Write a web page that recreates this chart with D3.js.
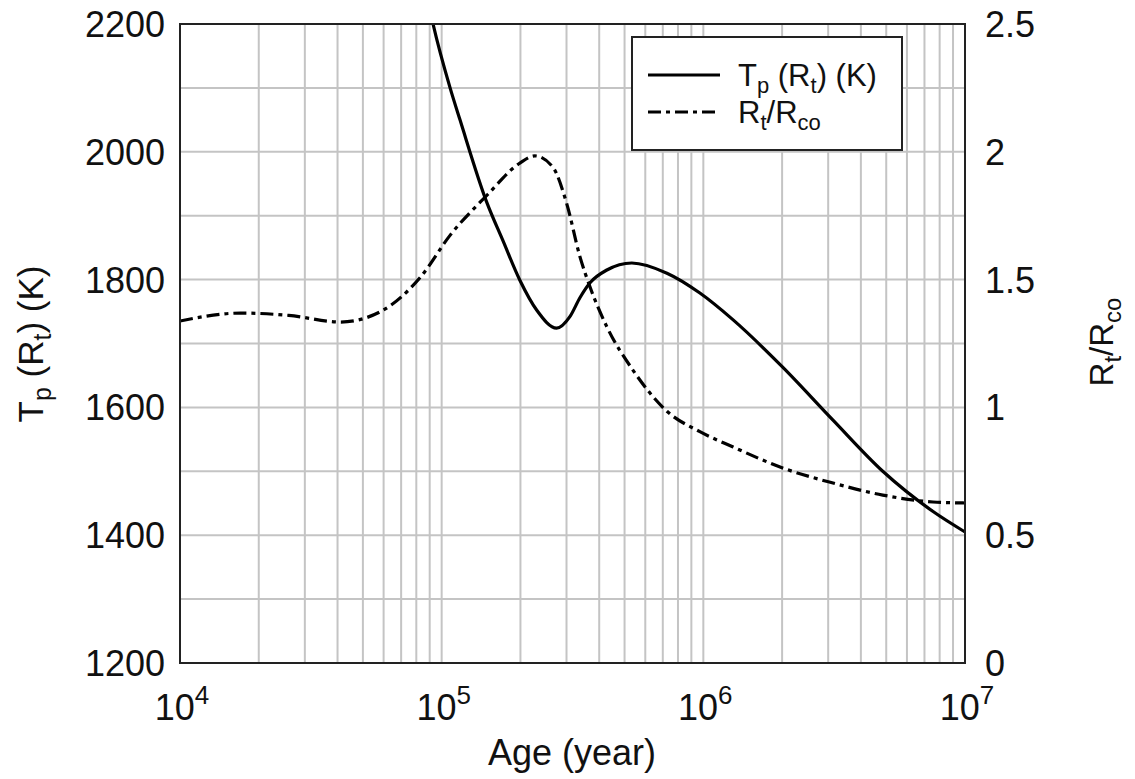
<!DOCTYPE html>
<html>
<head>
<meta charset="utf-8">
<script src="https://cdn.jsdelivr.net/npm/d3@7"></script>
<style>
  body { margin: 0; background: #fff; }
  text { font-family: "Liberation Sans", Arial, sans-serif; fill: #111; }
</style>
</head>
<body>
<svg id="chart" width="1135" height="779"></svg>
<script>
// Tp(Rt) in K
const tAge = [8.0e4, 9.27e4, 1.077e5, 1.175e5, 1.49e5, 1.71e5, 1.99e5, 2.31e5, 2.75e5, 3.09e5, 3.38e5, 3.69e5, 4.28e5, 5.33e5, 7.26e5, 9.7e5, 1.3e6, 2.01e6, 3.13e6, 4.85e6, 7.55e6, 1.0e7];
const tVal = [2330, 2200, 2100, 2050, 1920, 1862, 1799, 1752, 1724, 1742, 1772, 1795, 1815, 1826, 1810, 1779, 1737, 1663, 1580, 1500, 1437, 1405];

// Rt/Rco
const rAge = [1.0e4, 1.7e4, 2.6e4, 4.1e4, 5.8e4, 8.3e4, 1.08e5, 1.49e5, 1.99e5, 2.27e5, 2.66e5, 3.0e5, 3.38e5, 3.69e5, 4.28e5, 5.38e5, 7.26e5, 9.7e5, 1.3e6, 2.01e6, 3.13e6, 4.85e6, 7.55e6, 1.0e7];
const rVal = [1.338, 1.369, 1.36, 1.334, 1.373, 1.51, 1.675, 1.83, 1.956, 1.984, 1.94, 1.80, 1.588, 1.471, 1.315, 1.146, 0.985, 0.905, 0.845, 0.763, 0.704, 0.657, 0.63, 0.626];

const leftTicks = [1200, 1400, 1600, 1800, 2000, 2200];
const rightTicks = [0, 0.5, 1, 1.5, 2, 2.5];
const rightTickLabels = ["0", "0.5", "1", "1.5", "2", "2.5"];
const decades = [4, 5, 6, 7];

const margin = { top: 24, right: 170, bottom: 116, left: 180 };
const width = 1135 - margin.left - margin.right;
const height = 779 - margin.top - margin.bottom;

const svg = d3.select("#chart");
const g = svg.append("g").attr("transform", `translate(${margin.left},${margin.top})`);

const x = d3.scaleLog().domain([1e4, 1e7]).range([0, width]);
const yL = d3.scaleLinear().domain([1200, 2200]).range([height, 0]);
const yR = d3.scaleLinear().domain([0, 2.5]).range([height, 0]);

// grid
const xGrid = [];
for (let e = 4; e < 7; e++) for (let m = 1; m < 10; m++) xGrid.push(m * Math.pow(10, e));
g.selectAll(".vgrid").data(xGrid).join("line")
  .attr("class", "vgrid")
  .attr("x1", d => x(d)).attr("x2", d => x(d))
  .attr("y1", 0).attr("y2", height)
  .attr("stroke", "#c4c4c4").attr("stroke-width", 2);

g.selectAll(".hgrid").data(d3.range(1300, 2200, 100)).join("line")
  .attr("class", "hgrid")
  .attr("x1", 0).attr("x2", width)
  .attr("y1", d => yL(d)).attr("y2", d => yL(d))
  .attr("stroke", "#c4c4c4").attr("stroke-width", 2);

g.append("clipPath").attr("id", "clip")
  .append("rect").attr("width", width).attr("height", height);

// curves
const tData = tAge.map((a, i) => ({ a, v: tVal[i] }));
const rData = rAge.map((a, i) => ({ a, v: rVal[i] }));

g.append("path").datum(tData)
  .attr("clip-path", "url(#clip)")
  .attr("fill", "none").attr("stroke", "#000").attr("stroke-width", 3.2)
  .attr("d", d3.line().x(d => x(d.a)).y(d => yL(d.v)).curve(d3.curveMonotoneX));

g.append("path").datum(rData)
  .attr("clip-path", "url(#clip)")
  .attr("fill", "none").attr("stroke", "#000").attr("stroke-width", 3.2)
  .attr("stroke-dasharray", "13,5,4,5")
  .attr("d", d3.line().x(d => x(d.a)).y(d => yR(d.v)).curve(d3.curveMonotoneX));

// frame
g.append("rect").attr("width", width).attr("height", height)
  .attr("fill", "none").attr("stroke", "#222").attr("stroke-width", 2);

// left ticks
g.selectAll(".ltick").data(leftTicks).join("text")
  .attr("class", "ltick")
  .attr("x", -15).attr("y", d => yL(d)).attr("dy", "0.36em")
  .attr("text-anchor", "end").attr("font-size", 36)
  .text(d => d);

// right ticks
g.selectAll(".rtick").data(rightTicks).join("text")
  .attr("class", "rtick")
  .attr("x", width + 20).attr("y", d => yR(d)).attr("dy", "0.36em")
  .attr("text-anchor", "start").attr("font-size", 36)
  .text((d, i) => rightTickLabels[i]);

// x ticks 10^n
const xt = g.selectAll(".xtick").data(decades).join("text")
  .attr("class", "xtick")
  .attr("x", d => x(Math.pow(10, d)) + 2).attr("y", height + 57)
  .attr("text-anchor", "middle").attr("font-size", 36);
xt.append("tspan").text("10");
xt.append("tspan").attr("dy", -16).attr("font-size", 26).text(d => d);

// axis titles
svg.append("text")
  .attr("x", 572).attr("y", 765)
  .attr("text-anchor", "middle").attr("font-size", 36)
  .text("Age (year)");

const lt = svg.append("text")
  .attr("transform", "translate(43,344) rotate(-90)")
  .attr("text-anchor", "middle").attr("font-size", 35);
lt.append("tspan").text("T");
lt.append("tspan").attr("dy", 8).attr("font-size", 25).text("p");
lt.append("tspan").attr("dy", -8).text(" (R");
lt.append("tspan").attr("dy", 8).attr("font-size", 25).text("t");
lt.append("tspan").attr("dy", -8).text(") (K)");

const rt = svg.append("text")
  .attr("transform", "translate(1113,342) rotate(-90)")
  .attr("text-anchor", "middle").attr("font-size", 33);
rt.append("tspan").text("R");
rt.append("tspan").attr("dy", 8).attr("font-size", 24).text("t");
rt.append("tspan").attr("dy", -8).text("/R");
rt.append("tspan").attr("dy", 8).attr("font-size", 24).text("co");

// legend
const leg = svg.append("g");
leg.append("rect").attr("x", 632).attr("y", 37).attr("width", 270).attr("height", 113)
  .attr("fill", "#fff").attr("stroke", "#222").attr("stroke-width", 2);
leg.append("line").attr("x1", 648).attr("x2", 720).attr("y1", 75).attr("y2", 75)
  .attr("stroke", "#000").attr("stroke-width", 3.2);
leg.append("line").attr("x1", 648).attr("x2", 720).attr("y1", 112).attr("y2", 112)
  .attr("stroke", "#000").attr("stroke-width", 3.2).attr("stroke-dasharray", "13,5,4,5");

const l1 = leg.append("text").attr("x", 738).attr("y", 86).attr("font-size", 31);
l1.append("tspan").text("T");
l1.append("tspan").attr("dy", 7).attr("font-size", 22).text("p");
l1.append("tspan").attr("dy", -7).text(" (R");
l1.append("tspan").attr("dy", 7).attr("font-size", 22).text("t");
l1.append("tspan").attr("dy", -7).text(") (K)");

const l2 = leg.append("text").attr("x", 738).attr("y", 123).attr("font-size", 31);
l2.append("tspan").text("R");
l2.append("tspan").attr("dy", 7).attr("font-size", 22).text("t");
l2.append("tspan").attr("dy", -7).text("/R");
l2.append("tspan").attr("dy", 7).attr("font-size", 22).text("co");
</script>
</body>
</html>
